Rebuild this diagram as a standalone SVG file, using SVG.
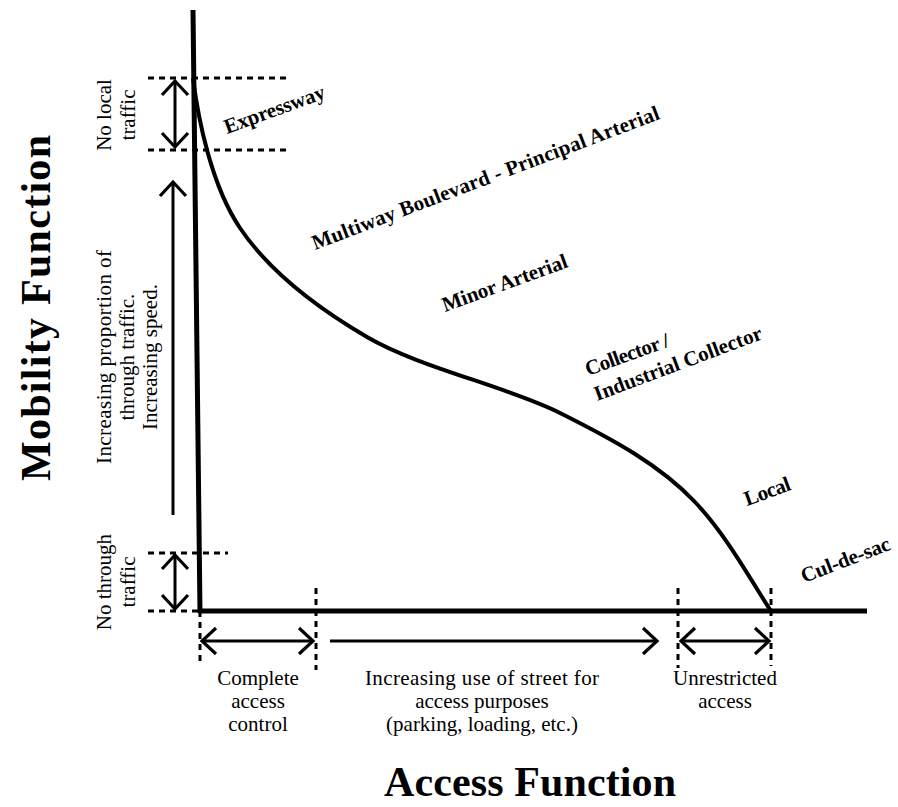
<svg xmlns="http://www.w3.org/2000/svg" width="898" height="807" viewBox="0 0 898 807">
<style>
.ax{fill:none;stroke:#000;stroke-width:5;stroke-linecap:butt}
.crv{fill:none;stroke:#000;stroke-width:4}
.dot{fill:none;stroke:#000;stroke-width:3;stroke-dasharray:6 5}
.arr{fill:none;stroke:#000;stroke-width:3}
.s{font-family:"Liberation Serif","Times New Roman",serif;font-size:21px;fill:#000;text-anchor:middle}
.b{font-family:"Liberation Serif","Times New Roman",serif;font-size:21px;font-weight:bold;fill:#000}
.t{font-family:"Liberation Serif","Times New Roman",serif;font-size:42px;font-weight:bold;fill:#000;text-anchor:middle}
</style>
<defs>
<marker id="chev" viewBox="-17 -16 20 32" refX="0" refY="0" markerWidth="20" markerHeight="32" markerUnits="userSpaceOnUse" orient="auto-start-reverse">
<path d="M-14,-13 L0,0 L-14,13" fill="none" stroke="#000" stroke-width="3.2"/>
</marker>
</defs>
<rect width="898" height="807" fill="#fff"/>

<g id="axes">
<line class="ax" x1="193" y1="10" x2="200" y2="613"/>
<line class="ax" x1="198" y1="611" x2="867" y2="611"/>
</g>

<g id="curve">
<path class="crv" d="M193,78 C198,118 211,185 240,228 C269,271 314,306 367,337 C420,368 506,386 560,413 C614,440 660,465 695,502 C728,537 751,581 771,611"/>
</g>

<g id="guides">
<line class="dot" x1="148" y1="78" x2="287" y2="78"/>
<line class="dot" x1="148" y1="150" x2="287" y2="150"/>
<line class="dot" x1="148" y1="553" x2="228" y2="553"/>
<line class="dot" x1="148" y1="611" x2="200" y2="611"/>
<line class="dot" x1="200" y1="611" x2="200" y2="664"/>
<line class="dot" x1="316" y1="588" x2="316" y2="670"/>
<line class="dot" x1="678" y1="588" x2="678" y2="668"/>
<line class="dot" x1="771" y1="588" x2="771" y2="666"/>
</g>

<g id="connectors">
<line class="arr" x1="175" y1="81" x2="175" y2="147" marker-start="url(#chev)" marker-end="url(#chev)"/>
<line class="arr" x1="173" y1="515" x2="173" y2="182" marker-end="url(#chev)"/>
<line class="arr" x1="175" y1="555" x2="175" y2="609" marker-start="url(#chev)" marker-end="url(#chev)"/>
<line class="arr" x1="202" y1="641" x2="313" y2="641" marker-start="url(#chev)" marker-end="url(#chev)"/>
<line class="arr" x1="330" y1="641" x2="657" y2="641" marker-end="url(#chev)"/>
<line class="arr" x1="681" y1="641" x2="769" y2="641" marker-start="url(#chev)" marker-end="url(#chev)"/>
</g>

<g id="mobility-label">
<text class="t" transform="translate(50,308) rotate(-90)" textLength="346">Mobility Function</text>
</g>
<g id="access-label">
<text class="t" x="530" y="796" textLength="292">Access Function</text>
</g>

<g id="no-local">
<text class="s" transform="translate(111,115) rotate(-90)">No local</text>
<text class="s" transform="translate(135,115) rotate(-90)">traffic</text>
</g>
<g id="through-traffic">
<text class="s" transform="translate(111,357) rotate(-90)" textLength="214">Increasing proportion of</text>
<text class="s" transform="translate(134,357) rotate(-90)">through traffic.</text>
<text class="s" transform="translate(157,357) rotate(-90)">Increasing speed.</text>
</g>
<g id="no-through">
<text class="s" transform="translate(111,582) rotate(-90)">No through</text>
<text class="s" transform="translate(135,582) rotate(-90)">traffic</text>
</g>

<g id="complete-access">
<text class="s" x="258" y="685">Complete</text>
<text class="s" x="258" y="708">access</text>
<text class="s" x="258" y="731">control</text>
</g>
<g id="increasing-use">
<text class="s" x="482" y="685" textLength="234">Increasing use of street for</text>
<text class="s" x="482" y="708">access purposes</text>
<text class="s" x="482" y="731">(parking, loading, etc.)</text>
</g>
<g id="unrestricted">
<text class="s" x="725" y="685">Unrestricted</text>
<text class="s" x="725" y="708">access</text>
</g>

<g id="expressway">
<text class="b" transform="translate(227,134) rotate(-20)" textLength="106">Expressway</text>
</g>
<g id="multiway">
<text class="b" transform="translate(315,250) rotate(-20.8)" textLength="370">Multiway Boulevard - Principal Arterial</text>
</g>
<g id="minor-arterial">
<text class="b" transform="translate(445,312) rotate(-20)" textLength="132">Minor Arterial</text>
</g>
<g id="collector">
<text class="b" transform="translate(588,376) rotate(-20)" textLength="88">Collector /</text>
<text class="b" transform="translate(597,401) rotate(-20.5)" textLength="178">Industrial Collector</text>
</g>
<g id="local">
<text class="b" transform="translate(747,506) rotate(-20)" textLength="48">Local</text>
</g>
<g id="cul-de-sac">
<text class="b" transform="translate(804,583) rotate(-21)" textLength="94">Cul-de-sac</text>
</g>
</svg>
